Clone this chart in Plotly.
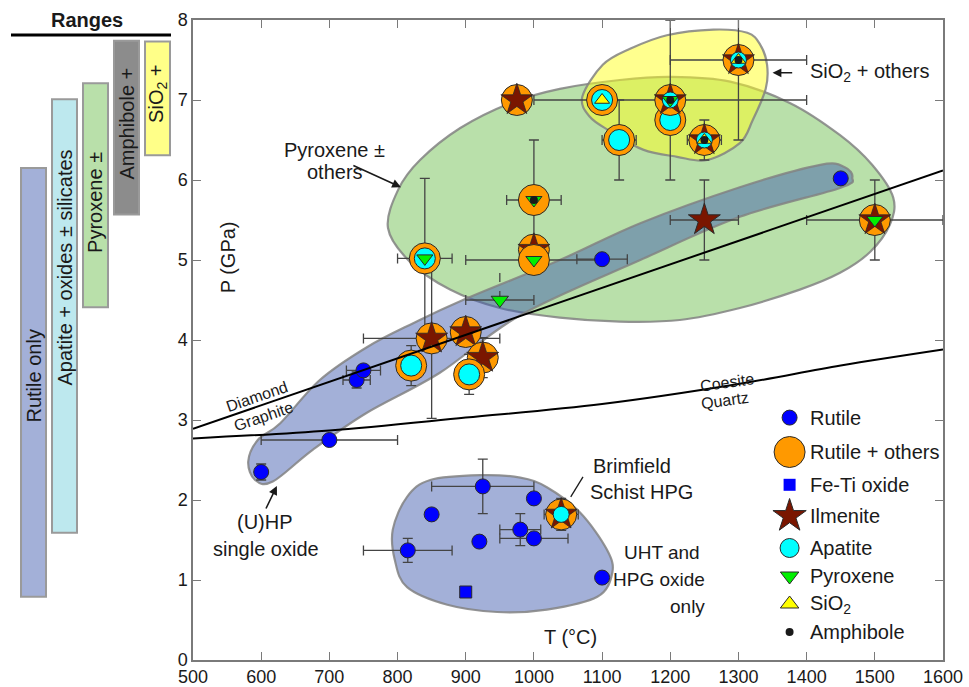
import plotly.graph_objects as go

FONT = "Liberation Sans, Arial, Helvetica, sans-serif"
TXT = "#1a1a1a"
ORANGE = "#FF9900"
STARC = "#7A1600"
CYAN = "#00FFFF"
GREEN = "#00F000"
YELLOW = "#FFFF00"
BLUE = "#0000FF"
DOT = "#1a1a1a"
EB = "#444444"
EDGE = "#2a2a2a"

# ---------------- data ----------------
# Rutile only
rut_T = [600, 700, 740, 750, 815, 850, 925, 1000, 920, 980, 1000, 1100, 1100, 1450]
rut_P = [2.35, 2.75, 3.50, 3.62, 1.37, 1.82, 2.17, 2.02, 1.48, 1.63, 1.52, 1.03, 5.01, 6.02]
rut_eT = [0, 100, 20, 25, 65, 0, 75, 0, 0, 30, 50, 0, 37, 0]
rut_eP = [0.1, 0, 0.1, 0, 0.15, 0, 0.34, 0, 0, 0.2, 0, 0, 0, 0]

# Rutile + others (composite symbols)
oth_T = [1200, 1200, 1300, 1100, 1125, 1250, 975, 1000, 1000, 1000, 840, 850, 900, 925, 820, 905, 1500, 1040]
oth_P = [6.75, 7.00, 7.50, 7.00, 6.50, 6.50, 7.00, 5.75, 5.13, 5.00, 5.02, 4.02, 4.10, 3.78, 3.68, 3.57, 5.50, 1.82]
oth_ilm = [0, 1, 1, 0, 0, 1, 1, 0, 1, 0, 0, 1, 1, 1, 0, 0, 1, 1]
oth_ap = [1, 1, 1, 1, 1, 1, 0, 0, 0, 0, 1, 0, 0, 0, 1, 1, 0, 1]
oth_pyx = [0, 1, 0, 0, 0, 0, 0, 1, 0, 1, 1, 0, 0, 0, 0, 0, 1, 0]
oth_sio2 = [0, 0, 1, 1, 0, 1, 0, 0, 0, 0, 0, 0, 0, 0, 0, 0, 0, 0]
oth_amph = [0, 1, 1, 0, 0, 1, 0, 1, 0, 0, 0, 0, 0, 0, 0, 0, 0, 0]
oth_eT = [0, 200, 100, 0, 25, 25, 0, 40, 0, 100, 40, 100, 0, 0, 0, 0, 100, 25]
oth_eP = [0, 1.0, 1.0, 0, 0.5, 0.25, 0, 0.75, 0, 0, 1.0, 1.0, 0, 0.25, 0.25, 0.25, 0.5, 0.2]

# Ilmenite only
ilm_T = [1250]
ilm_P = [5.5]
ilm_eT = [50]
ilm_eP = [0.5]

# Pyroxene only (dashed upper error)
pyx_T = [950]
pyx_P = [4.5]
pyx_eT = [50]
pyx_eP_up = [0.35]

# Fe-Ti oxide
feti_T = [900]
feti_P = [0.85]

# Reaction curves
dia_T = [500, 1600]
dia_P = [2.89, 6.12]
coe_T = [500, 700, 900, 1100, 1300, 1450, 1600]
coe_P = [2.77, 2.87, 3.03, 3.20, 3.45, 3.68, 3.88]

# Ranges panel
rng_labels = ["Rutile only", "Apatite + oxides ± silicates", "Pyroxene ±", "Amphibole +", "SiO<sub>2</sub> +"]
rng_lo = [0.79, 1.59, 4.41, 5.57, 6.31]
rng_hi = [6.15, 7.01, 7.21, 7.74, 7.73]
rng_txt_P = [3.55, 4.90, 5.72, 6.70, 7.07]
rng_colors = ["#A3B0D8", "#BDE8EE", "#B9E0AA", "#8C8C8C", "#FFFF88"]

# Field outlines (T, P)
green_T = [786, 801, 833, 892, 965, 1038, 1126, 1200, 1288, 1376, 1449, 1496, 1527, 1522, 1493, 1449, 1390, 1302, 1214, 1126, 1038, 950, 877, 818]
green_P = [5.40, 5.88, 6.25, 6.65, 6.96, 7.14, 7.25, 7.29, 7.23, 6.96, 6.56, 6.19, 5.78, 5.44, 5.10, 4.84, 4.63, 4.40, 4.25, 4.23, 4.28, 4.40, 4.63, 4.98]
yel_T = [1071, 1101, 1141, 1195, 1263, 1313, 1332, 1342, 1340, 1321, 1302, 1254, 1210, 1160, 1112, 1082]
yel_P = [7.04, 7.44, 7.64, 7.81, 7.88, 7.84, 7.69, 7.44, 7.14, 6.75, 6.46, 6.25, 6.29, 6.38, 6.61, 6.79]
band_T = [581, 595, 628, 686, 755, 823, 896, 1038, 1156, 1302, 1420, 1456, 1467, 1449, 1302, 1156, 980, 862, 755, 676, 617, 591]
band_P = [2.48, 2.75, 2.96, 3.50, 3.91, 4.21, 4.50, 5.00, 5.46, 5.91, 6.19, 6.16, 6.03, 5.90, 5.54, 5.00, 4.31, 3.59, 3.09, 2.63, 2.23, 2.25]
blob_T = [793, 814, 848, 921, 980, 1019, 1068, 1107, 1115, 1093, 1019, 946, 873, 814, 796]
blob_P = [1.63, 2.04, 2.25, 2.31, 2.28, 2.16, 1.84, 1.38, 1.09, 0.79, 0.63, 0.60, 0.69, 0.91, 1.25]

# Legend
leg_names = ["Rutile", "Rutile + others", "Fe-Ti oxide", "Ilmenite", "Apatite", "Pyroxene", "SiO<sub>2</sub>", "Amphibole"]
leg_symbols = ["circle", "circle", "square", "star", "circle", "triangle-down", "triangle-up", "circle"]
leg_colors = [BLUE, ORANGE, BLUE, STARC, CYAN, GREEN, YELLOW, DOT]
leg_sizes = [15, 31, 12, 25, 19, 16, 16, 8]
LEG_T = 1375
LEG_TXT_T = 1402
leg_rows_P = [3.03, 2.60, 2.19, 1.80, 1.40, 1.05, 0.70, 0.35]


def closed_path(xs, ys):
    n = len(xs)
    pts = list(zip(xs, ys))
    d = "M%.2f,%.3f" % pts[0]
    for i in range(n):
        p0 = pts[(i - 1) % n]
        p1 = pts[i]
        p2 = pts[(i + 1) % n]
        p3 = pts[(i + 2) % n]
        c1 = (p1[0] + (p2[0] - p0[0]) / 6, p1[1] + (p2[1] - p0[1]) / 6)
        c2 = (p2[0] - (p3[0] - p1[0]) / 6, p2[1] - (p3[1] - p1[1]) / 6)
        d += " C%.2f,%.3f %.2f,%.3f %.2f,%.3f" % (c1[0], c1[1], c2[0], c2[1], p2[0], p2[1])
    return d + " Z"


fig = go.Figure()

# Ranges bars
fig.add_trace(go.Bar(
    x=list(range(len(rng_lo))), y=[h - l for h, l in zip(rng_hi, rng_lo)], base=rng_lo,
    xaxis="x2", yaxis="y", width=0.806,
    marker=dict(color=rng_colors, line=dict(color="#9a9a9a", width=2)),
    hoverinfo="skip", showlegend=False))

# Fields
OUT = "rgba(130,130,130,0.85)"
fig.add_shape(type="path", path=closed_path(green_T, green_P), xref="x", yref="y",
              fillcolor="rgb(185,224,170)", line=dict(color=OUT, width=2.2), layer="below")
fig.add_shape(type="path", path=closed_path(band_T, band_P), xref="x", yref="y",
              fillcolor="rgba(60,88,172,0.47)", line=dict(color=OUT, width=2.2), layer="below")
fig.add_shape(type="path", path=closed_path(blob_T, blob_P), xref="x", yref="y",
              fillcolor="rgba(60,88,172,0.47)", line=dict(color=OUT, width=2.2), layer="below")
fig.add_shape(type="path", path=closed_path(yel_T, yel_P), xref="x", yref="y",
              fillcolor="rgba(255,255,30,0.5)", line=dict(color=OUT, width=2.2), layer="below")

# Error bars (drawn first so they sit under all markers)
allT = rut_T + oth_T + ilm_T + pyx_T
allP = rut_P + oth_P + ilm_P + pyx_P
alleT = rut_eT + oth_eT + ilm_eT + pyx_eT
alleP = rut_eP + oth_eP + ilm_eP + [0]
xi = [i for i, e in enumerate(alleT) if e > 0]
yi = [i for i, e in enumerate(alleP) if e > 0]
fig.add_trace(go.Scatter(
    x=[allT[i] for i in xi], y=[allP[i] for i in xi], mode="markers",
    marker=dict(size=2, opacity=0),
    error_x=dict(type="data", array=[alleT[i] for i in xi], color=EB, thickness=1.3, width=5),
    hoverinfo="skip", showlegend=False))
fig.add_trace(go.Scatter(
    x=[allT[i] for i in yi], y=[allP[i] for i in yi], mode="markers",
    marker=dict(size=2, opacity=0),
    error_y=dict(type="data", array=[alleP[i] for i in yi], color=EB, thickness=1.3, width=5),
    hoverinfo="skip", showlegend=False))
for t, p, e in zip(pyx_T, pyx_P, pyx_eP_up):
    fig.add_trace(go.Scatter(x=[t, t], y=[p, p + e], mode="lines",
                             line=dict(color=EB, width=1.3, dash="dash"),
                             hoverinfo="skip", showlegend=False))


def mk(x, y, symbol, size, color, lw=1.0):
    fig.add_trace(go.Scatter(x=x, y=y, mode="markers",
                             marker=dict(symbol=symbol, size=size, color=color, opacity=1,
                                         line=dict(color=EDGE, width=lw)),
                             hoverinfo="skip", showlegend=False))


# Rutile only, Fe-Ti oxide
mk(rut_T, rut_P, "circle", 15, BLUE)
mk(feti_T, feti_P, "square", 12, BLUE)
# standalone ilmenite and pyroxene
mk(ilm_T, ilm_P, "star", 24, STARC)
mk(pyx_T, pyx_P, "triangle-down", 15, GREEN)

# composite points, drawn point by point
for i in range(len(oth_T)):
    x, y = [oth_T[i]], [oth_P[i]]
    mk(x, y, "circle", 31, ORANGE)
    if oth_ilm[i]:
        mk(x, y, "star", 24, STARC, 0.8)
    if oth_ap[i]:
        mk(x, y, "circle", 16 if oth_ilm[i] else 21, CYAN)
    if oth_pyx[i]:
        mk(x, y, "triangle-down", 14, GREEN)
    if oth_sio2[i]:
        mk(x, y, "triangle-up", 13, YELLOW)
    if oth_amph[i]:
        mk(x, y, "circle", 8, DOT, 0)

# reaction curves
fig.add_trace(go.Scatter(x=dia_T, y=dia_P, mode="lines", line=dict(color="black", width=2),
                         hoverinfo="skip", showlegend=False))
fig.add_trace(go.Scatter(x=coe_T, y=coe_P, mode="lines", line=dict(color="black", width=2, shape="spline"),
                         hoverinfo="skip", showlegend=False))

# legend (drawn manually)
fig.add_trace(go.Scatter(
    x=[LEG_T] * len(leg_names), y=leg_rows_P, mode="markers",
    marker=dict(symbol=leg_symbols, size=leg_sizes, color=leg_colors, opacity=1,
                line=dict(color=EDGE, width=[1, 1, 0, 1, 1, 1, 1, 0])),
    hoverinfo="skip", showlegend=False))
for name, p in zip(leg_names, leg_rows_P):
    fig.add_annotation(x=LEG_TXT_T, y=p, xref="x", yref="y", text=name, showarrow=False,
                       xanchor="left", yanchor="middle", font=dict(size=20, color=TXT))

# range labels
for i, (lab, p) in enumerate(zip(rng_labels, rng_txt_P)):
    fig.add_annotation(x=i, y=p, xref="x2", yref="y", text=lab, textangle=-90, showarrow=False,
                       font=dict(size=20, color=TXT))
fig.add_annotation(x=87 / 943, y=1.0, xref="paper", yref="paper", text="<b>Ranges</b>", showarrow=False,
                   xanchor="center", yanchor="middle", font=dict(size=20, color=TXT))
fig.add_shape(type="line", xref="paper", yref="paper", x0=11 / 943, x1=171 / 943,
              y0=1 - 15 / 640, y1=1 - 15 / 640, line=dict(color="black", width=3))


def txt(x, y, s, size=20, angle=0, xanchor="center"):
    fig.add_annotation(x=x, y=y, xref="x", yref="y", text=s, showarrow=False, textangle=angle,
                       xanchor=xanchor, yanchor="middle", font=dict(size=size, color=TXT))


def arrow(x, y, ax, ay):
    fig.add_annotation(x=x, y=y, ax=ax, ay=ay, xref="x", yref="y", axref="x", ayref="y", text="",
                       showarrow=True, arrowhead=2, arrowsize=1.1, arrowwidth=1.6, arrowcolor=TXT)


txt(708, 6.375, "Pyroxene ±")
txt(708, 6.10, "others")
arrow(805, 5.91, 733, 6.19)
txt(1402, 7.35, "SiO<sub>2</sub> + others", xanchor="left")
arrow(1350, 7.34, 1381, 7.34)
txt(606, 1.725, "(U)HP")
txt(607, 1.39, "single oxide")
arrow(623, 2.175, 606, 1.875)
txt(1144, 2.425, "Brimfield")
txt(1158, 2.10, "Schist HPG")
fig.add_shape(type="line", xref="x", yref="y", x0=1072, y0=2.29, x1=1054, y1=2.04,
              line=dict(color=TXT, width=1.3))
txt(1246, 1.35, "UHT and", size=19, xanchor="right")
txt(1254, 1.0125, "HPG oxide", size=19, xanchor="right")
txt(1254, 0.675, "only", size=19, xanchor="right")
txt(1053, 0.29, "T (°C)")
txt(551, 5.03, "P (GPa)", angle=-90)
txt(594, 3.29, "Diamond", size=16, angle=-19)
txt(603, 3.04, "Graphite", size=16, angle=-19)
txt(1283, 3.475, "Coesite", size=16, angle=-8)
txt(1280, 3.24, "Quartz", size=16, angle=-8)

AX = "#7a7a7a"
fig.update_layout(
    width=969, height=687, margin=dict(l=0, r=26, t=20, b=27, autoexpand=False),
    plot_bgcolor="white", paper_bgcolor="white", showlegend=False,
    font=dict(family=FONT, color=TXT),
    xaxis=dict(domain=[193 / 943, 1], range=[500, 1600], tickvals=list(range(500, 1601, 100)),
               ticks="inside", ticklen=8, tickwidth=1.3, tickcolor=AX, showline=True, linecolor=AX,
               linewidth=1.5, mirror="ticks", showgrid=False, zeroline=False, automargin=False,
               tickfont=dict(size=18, color=TXT)),
    yaxis=dict(range=[0, 8], tickvals=list(range(0, 9)), ticks="inside", ticklen=8, tickwidth=1.3,
               tickcolor=AX, showline=True, linecolor=AX, linewidth=1.5, mirror="ticks",
               showgrid=False, zeroline=False, automargin=False, tickfont=dict(size=18, color=TXT)),
    xaxis2=dict(domain=[0, 179 / 943], range=[-33.5 / 31, -33.5 / 31 + 179 / 31], visible=False,
                anchor="y", fixedrange=True, automargin=False),
)

fig.write_html("out.html", config={"displayModeBar": False},
               post_script="document.body.style.margin='0';document.body.style.padding='0';")
